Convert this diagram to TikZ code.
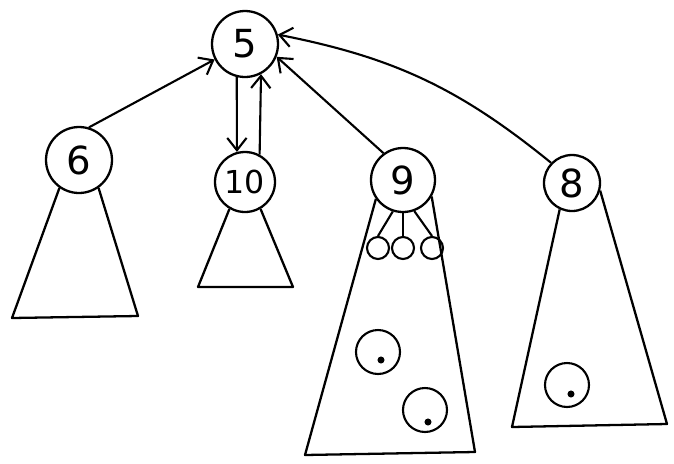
\documentclass[tikz,border=0pt]{standalone}
\usepackage{fontspec}
\setmainfont{DejaVu Sans}
\usetikzlibrary{arrows.meta}
\tikzset{
  treenode/.style={draw, circle, line width=1.3pt, inner sep=0pt, font=\fontsize{22}{24}\selectfont},
  smallnode/.style={draw, circle, line width=1.2pt, inner sep=0pt, minimum size=0.44cm},
  midnode/.style={draw, circle, line width=1.2pt, inner sep=0pt, minimum size=0.88cm},
  tri/.style={line width=1.3pt, line join=round},
  arr/.style={line width=1.2pt, -{Straight Barb[length=7pt,width=11pt,line width=1.2pt]}},
  dotmark/.style={fill, circle, inner sep=0pt, minimum size=4pt}
}
\begin{document}
\begin{tikzpicture}[x=0.02cm, y=-0.02cm]
\useasboundingbox (0,0) rectangle (674,464);
% tree nodes
\node[treenode, minimum size=1.32cm] (n5) at (245,44) {5};
\node[treenode, minimum size=1.32cm] (n6) at (79,160) {6};
\node[treenode, minimum size=1.2cm, font=\fontsize{18}{20}\selectfont] (n10) at (245,182) {10};
\node[treenode, minimum size=1.28cm] (n9) at (403,180) {9};
\node[treenode, minimum size=1.12cm] (n8) at (572,183) {8};
% subtrees
\draw[tri] (n6.235) -- (12,318) -- (138,316) -- (n6.-55);
\draw[tri] (n10.240) -- (198,287) -- (293,287) -- (n10.-60);
\draw[tri] (n9.215) -- (305,455) -- (475,452) -- (n9.-30);
\draw[tri] (n8.245) -- (512,427) -- (667,424) -- (n8.-15);
% children of 9
\node[smallnode] (c1) at (378,248) {};
\node[smallnode] (c2) at (403,248) {};
\node[smallnode] (c3) at (432,248) {};
\draw[line width=1.2pt] (n9.252) -- (c1.north);
\draw[line width=1.2pt] (n9.south) -- (c2.north);
\draw[line width=1.2pt] (n9.290) -- (c3.north);
% inner nodes
\node[midnode] (d1) at (378,352) {};
\node[dotmark] (e1) at (381,360) {};
\node[midnode] (d2) at (425,410) {};
\node[dotmark] (e2) at (428,422) {};
\node[midnode] (d3) at (567,385) {};
\node[dotmark] (e3) at (571,394) {};
% connectors
\draw[arr] (n6.73) -- (n5.207);
\draw[arr] (n5.256) -- (n10.105);
\draw[arr] (n10.62) -- (n5.298);
\draw[arr] (n9.126) -- (n5.338);
\draw[arr] (n8.136) to[bend right=14] (n5.16);
\end{tikzpicture}
\end{document}
